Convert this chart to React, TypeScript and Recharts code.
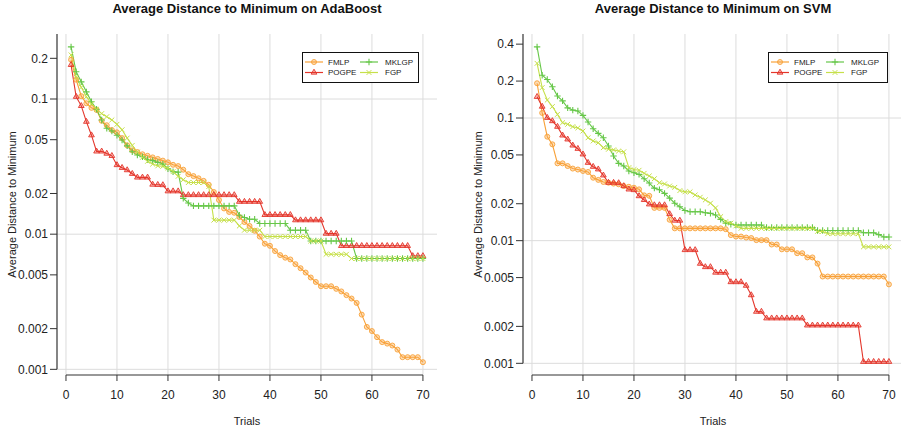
import React from "react";
import { LineChart, Line, XAxis, YAxis, CartesianGrid, ReferenceLine, Legend } from "recharts";

// trial index shared by both panels
const trials = [
  1, 2, 3, 4, 5, 6, 7, 8, 9, 10, 11, 12, 13, 14, 15, 16, 17, 18, 19, 20,
  21, 22, 23, 24, 25, 26, 27, 28, 29, 30, 31, 32, 33, 34, 35, 36, 37, 38, 39, 40,
  41, 42, 43, 44, 45, 46, 47, 48, 49, 50, 51, 52, 53, 54, 55, 56, 57, 58, 59, 60,
  61, 62, 63, 64, 65, 66, 67, 68, 69, 70,
];

const xTicks = [0, 10, 20, 30, 40, 50, 60, 70];
const adaTicks = [0.001, 0.002, 0.005, 0.01, 0.02, 0.05, 0.1, 0.2];
const svmTicks = [0.001, 0.002, 0.005, 0.01, 0.02, 0.05, 0.1, 0.2, 0.4];
const decades = [0.001, 0.01, 0.1];

// AdaBoost panel
const adaFMLP = [
  0.195, 0.139, 0.105, 0.093, 0.086, 0.083, 0.069, 0.064, 0.059, 0.0567,
  0.0514, 0.0454, 0.0417, 0.0405, 0.039, 0.038, 0.037, 0.036, 0.035, 0.034,
  0.0326, 0.0319, 0.03, 0.0278, 0.0269, 0.0259, 0.0248, 0.0232, 0.0205, 0.0179,
  0.0155, 0.0146, 0.0144, 0.0134, 0.0123, 0.0115, 0.0106, 0.0096, 0.0085, 0.0082,
  0.0075, 0.007, 0.0067, 0.0065, 0.006, 0.0056, 0.0052, 0.00478, 0.00443, 0.00412,
  0.00412, 0.00412, 0.00394, 0.00377, 0.00354, 0.00334, 0.0031, 0.00254, 0.00206, 0.00192,
  0.00173, 0.00159, 0.00155, 0.0015, 0.0014, 0.00123, 0.00123, 0.00123, 0.00123, 0.00113,
];
const adaPOGPE = [
  0.179, 0.104, 0.089, 0.068, 0.054, 0.041, 0.041, 0.0395, 0.038, 0.0325,
  0.031, 0.0298, 0.028, 0.0263, 0.0263, 0.0263, 0.0233, 0.0232, 0.0231, 0.0208,
  0.0208, 0.0208, 0.0195, 0.0195, 0.0195, 0.0195, 0.0195, 0.0195, 0.0195, 0.0195,
  0.0195, 0.0195, 0.0195, 0.0174, 0.0174, 0.0174, 0.0174, 0.0174, 0.0139, 0.0139,
  0.0139, 0.0139, 0.0139, 0.0139, 0.0127, 0.0127, 0.0127, 0.0127, 0.0127, 0.0127,
  0.0101, 0.0101, 0.0101, 0.0082, 0.0082, 0.0082, 0.0082, 0.0082, 0.0082, 0.0082,
  0.0082, 0.0082, 0.0082, 0.0082, 0.0082, 0.0082, 0.0082, 0.0069, 0.0069, 0.0069,
];
const adaMKLGP = [
  0.243, 0.159, 0.134, 0.113, 0.0955, 0.084, 0.07, 0.0607, 0.058, 0.054,
  0.0497, 0.045, 0.0407, 0.0385, 0.0374, 0.0357, 0.035, 0.034, 0.033, 0.0305,
  0.029, 0.0288, 0.0184, 0.017, 0.0162, 0.0162, 0.0162, 0.0162, 0.0162, 0.0162,
  0.0162, 0.0162, 0.0162, 0.0138, 0.0133, 0.0129, 0.0129, 0.012, 0.012, 0.012,
  0.012, 0.012, 0.012, 0.0107, 0.0107, 0.0107, 0.0107, 0.0089, 0.0089, 0.0089,
  0.0089, 0.0089, 0.0089, 0.0089, 0.0089, 0.0089, 0.0066, 0.0066, 0.0066, 0.0066,
  0.0066, 0.0066, 0.0066, 0.0066, 0.0066, 0.0066, 0.0066, 0.0066, 0.0066, 0.0066,
];
const adaFGP = [
  0.212, 0.145, 0.122, 0.104, 0.092, 0.084, 0.078, 0.074, 0.07, 0.065,
  0.0592, 0.0514, 0.0454, 0.0405, 0.037, 0.0346, 0.033, 0.032, 0.0318, 0.0308,
  0.029, 0.0268, 0.0253, 0.0241, 0.0241, 0.0241, 0.0241, 0.0225, 0.0127, 0.0127,
  0.0127, 0.0127, 0.0127, 0.0115, 0.0107, 0.0107, 0.0107, 0.0107, 0.0096, 0.0096,
  0.0096, 0.0096, 0.0096, 0.0096, 0.0096, 0.0096, 0.0096, 0.0089, 0.0089, 0.0089,
  0.0071, 0.0071, 0.0071, 0.0071, 0.0071, 0.0066, 0.0066, 0.0066, 0.0066, 0.0066,
  0.0066, 0.0066, 0.0066, 0.0066, 0.0066, 0.0066, 0.0066, 0.0066, 0.0066, 0.0066,
];

// SVM panel
const svmFMLP = [
  0.192, 0.11, 0.0704, 0.061, 0.0427, 0.0427, 0.0406, 0.0387, 0.038, 0.037,
  0.0363, 0.0326, 0.0313, 0.0301, 0.0297, 0.0292, 0.0288, 0.0279, 0.0275, 0.027,
  0.0262, 0.0234, 0.0232, 0.0185, 0.0185, 0.0185, 0.0148, 0.0126, 0.0126, 0.0126,
  0.0126, 0.0126, 0.0126, 0.0126, 0.0126, 0.0126, 0.0126, 0.0124, 0.0111, 0.0108,
  0.0108, 0.0106, 0.0105, 0.0101, 0.0101, 0.0101, 0.0093, 0.0093, 0.0085, 0.0085,
  0.0085, 0.0079, 0.0079, 0.0073, 0.0073, 0.0065, 0.0051, 0.0051, 0.0051, 0.0051,
  0.0051, 0.0051, 0.0051, 0.0051, 0.0051, 0.0051, 0.0051, 0.0051, 0.0051, 0.0044,
];
const svmPOGPE = [
  0.149, 0.124, 0.1005, 0.0945, 0.085, 0.0722, 0.067, 0.0598, 0.0562, 0.0506,
  0.0432, 0.0401, 0.0382, 0.0341, 0.0297, 0.0297, 0.0295, 0.0279, 0.0262, 0.0259,
  0.0231, 0.0215, 0.0198, 0.0195, 0.0195, 0.0195, 0.0165, 0.0146, 0.0146, 0.0084,
  0.0084, 0.0084, 0.0065, 0.0061, 0.0061, 0.0055, 0.0055, 0.0055, 0.0046, 0.0046,
  0.0046, 0.0043, 0.0036, 0.00264, 0.00264, 0.00233, 0.00233, 0.00233, 0.00233, 0.00233,
  0.00233, 0.00233, 0.00233, 0.00204, 0.00204, 0.00204, 0.00204, 0.00204, 0.00204, 0.00204,
  0.00204, 0.00204, 0.00204, 0.00204, 0.00103, 0.00103, 0.00103, 0.00103, 0.00103, 0.00103,
];
const svmMKLGP = [
  0.38, 0.223, 0.206, 0.18, 0.151, 0.138, 0.121, 0.116, 0.114, 0.105,
  0.0927, 0.0818, 0.075, 0.069, 0.0591, 0.049, 0.0427, 0.0406, 0.037, 0.0358,
  0.0347, 0.032, 0.0295, 0.0268, 0.026, 0.0243, 0.0222, 0.0202, 0.0189, 0.0176,
  0.0172, 0.0172, 0.0172, 0.0169, 0.0167, 0.0162, 0.0149, 0.0139, 0.0136, 0.0134,
  0.0134, 0.0134, 0.0134, 0.0134, 0.0134, 0.0128, 0.0128, 0.0128, 0.0128, 0.0128,
  0.0128, 0.0128, 0.0128, 0.0128, 0.0128, 0.0121, 0.0121, 0.0121, 0.0121, 0.0121,
  0.0121, 0.0121, 0.0121, 0.0121, 0.0116, 0.0116, 0.0116, 0.0112, 0.0107, 0.0107,
];
const svmFGP = [
  0.279, 0.177, 0.14, 0.124, 0.107, 0.0916, 0.0888, 0.085, 0.083, 0.0783,
  0.069, 0.065, 0.0629, 0.0573, 0.0556, 0.055, 0.0538, 0.053, 0.0394, 0.038,
  0.0375, 0.0354, 0.0337, 0.032, 0.0297, 0.029, 0.0279, 0.0272, 0.0256, 0.025,
  0.025, 0.0236, 0.0226, 0.0215, 0.0202, 0.0185, 0.0157, 0.0143, 0.0139, 0.0132,
  0.0126, 0.0126, 0.0126, 0.0126, 0.0126, 0.0126, 0.0126, 0.0126, 0.0126, 0.0126,
  0.0126, 0.0126, 0.0126, 0.0126, 0.0126, 0.0119, 0.0119, 0.0114, 0.0114, 0.0114,
  0.0114, 0.0114, 0.0114, 0.0114, 0.0089, 0.0089, 0.0089, 0.0089, 0.0089, 0.0089,
];

const SERIES = [
  { key: "FMLP", color: "#F8A138", shape: "circle" },
  { key: "POGPE", color: "#E4362B", shape: "triangle" },
  { key: "MKLGP", color: "#66C748", shape: "plus" },
  { key: "FGP", color: "#C6E04A", shape: "cross" },
];

const X_DOMAIN = [-1.76, 72.76];
const TEXT = "#222";
const AXIS = "#333";

function Marker({ cx, cy, shape, color }: any) {
  if (cx == null || cy == null) return null;
  if (shape === "circle") {
    return <circle cx={cx} cy={cy} r={2.5} fill={color} fillOpacity={0.35} stroke={color} strokeWidth={0.9} />;
  }
  if (shape === "triangle") {
    const r = 3.3;
    const pts = `${cx},${cy - r} ${cx - r * 0.87},${cy + r * 0.5} ${cx + r * 0.87},${cy + r * 0.5}`;
    return <polygon points={pts} fill={color} fillOpacity={0.35} stroke={color} strokeWidth={0.9} />;
  }
  if (shape === "plus") {
    const r = 3.2;
    return <path d={`M${cx - r},${cy}H${cx + r}M${cx},${cy - r}V${cy + r}`} stroke={color} strokeWidth={1.1} fill="none" />;
  }
  const r = 2.4;
  return (
    <path
      d={`M${cx - r},${cy - r}L${cx + r},${cy + r}M${cx - r},${cy + r}L${cx + r},${cy - r}`}
      stroke={color}
      strokeWidth={1}
      fill="none"
    />
  );
}

function LegendBox({ width }: { width: number }) {
  const cols = [
    { lx: 2, tx: 25 },
    { lx: 57, tx: 82 },
  ];
  return (
    <div style={{ width, height: 31, border: "1px solid #111", boxSizing: "border-box", background: "#fff" }}>
      <svg width={width - 2} height={29} style={{ display: "block" }}>
        {SERIES.map((s, i) => {
          const c = cols[Math.floor(i / 2)];
          const y = i % 2 === 0 ? 9 : 19.5;
          return (
            <g key={s.key}>
              <line x1={c.lx} x2={c.lx + 18} y1={y} y2={y} stroke={s.color} strokeWidth={1.2} />
              <Marker cx={c.lx + 9} cy={y} shape={s.shape} color={s.color} />
              <text x={c.tx} y={y} dy="0.35em" fontSize={8} fill={TEXT}>
                {s.key}
              </text>
            </g>
          );
        })}
      </svg>
    </div>
  );
}

function Panel({ left, title, values, yTicks, yDomain, legendWidth }: any) {
  const rows = trials.map((t, i) => ({
    t,
    FMLP: values[0][i],
    POGPE: values[1][i],
    MKLGP: values[2][i],
    FGP: values[3][i],
  }));
  const tickStyle = { fontSize: 12, fill: TEXT };
  return (
    <div style={{ position: "absolute", left, top: 0, width: 437, height: 429 }}>
      <div
        style={{
          position: "absolute",
          left: 57,
          width: 380,
          top: 1.5,
          textAlign: "center",
          fontWeight: "bold",
          fontSize: 13,
          lineHeight: "13px",
          color: "#111",
          whiteSpace: "nowrap",
        }}
      >
        {title}
      </div>
      <LineChart width={437} height={429} data={rows} margin={{ top: 34, right: 0, bottom: 0, left: 0 }}>
        <CartesianGrid
          stroke="#dcdcdc"
          strokeWidth={1}
          horizontalValues={decades}
          verticalValues={xTicks}
        />
        <XAxis
          dataKey="t"
          type="number"
          domain={X_DOMAIN}
          allowDataOverflow
          ticks={xTicks}
          interval={0}
          height={54}
          axisLine={false}
          tickLine={{ stroke: AXIS }}
          tickSize={6}
          tickMargin={9}
          tick={tickStyle}
          label={{ value: "Trials", position: "insideBottom", offset: 4, fontSize: 11, fill: TEXT }}
        />
        <YAxis
          type="number"
          scale="log"
          domain={yDomain}
          allowDataOverflow
          ticks={yTicks}
          interval={0}
          width={57}
          axisLine={false}
          tickLine={{ stroke: AXIS }}
          tickSize={7}
          tickMargin={2}
          tick={tickStyle}
          tickFormatter={(v: number) => String(v)}
          label={{
            value: "Average Distance to Minimum",
            angle: -90,
            position: "insideLeft",
            offset: 12,
            fontSize: 11,
            fill: TEXT,
            style: { textAnchor: "middle" },
          }}
        />
        <ReferenceLine
          segment={[
            { x: X_DOMAIN[0], y: 0.001 },
            { x: X_DOMAIN[0], y: yDomain[1] },
          ]}
          stroke={AXIS}
          strokeWidth={1.2}
          ifOverflow="visible"
        />
        <ReferenceLine
          segment={[
            { x: 0, y: yDomain[0] },
            { x: 70, y: yDomain[0] },
          ]}
          stroke={AXIS}
          strokeWidth={1.2}
          ifOverflow="visible"
        />
        {SERIES.map((s) => (
          <Line
            key={s.key}
            dataKey={s.key}
            type="linear"
            stroke={s.color}
            strokeWidth={1.1}
            isAnimationActive={false}
            dot={(p: any) => (
              <Marker key={`${s.key}-${p.index}`} cx={p.cx} cy={p.cy} shape={s.shape} color={s.color} />
            )}
            activeDot={false}
          />
        ))}
        <Legend
          layout="horizontal"
          verticalAlign="middle"
          align="center"
          wrapperStyle={{ left: 302, top: 52, width: legendWidth, height: 31 }}
          content={() => <LegendBox width={legendWidth} />}
        />
      </LineChart>
    </div>
  );
}

export default function App() {
  return (
    <div
      style={{
        position: "absolute",
        left: 0,
        top: 0,
        width: 901,
        height: 429,
        overflow: "hidden",
        background: "#fff",
        fontFamily: '"Liberation Sans", Arial, Helvetica, sans-serif',
      }}
    >
      <Panel
        left={0}
        title="Average Distance to Minimum on AdaBoost"
        values={[adaFMLP, adaPOGPE, adaMKLGP, adaFGP]}
        yTicks={adaTicks}
        yDomain={[0.000908, 0.3027]}
        legendWidth={117}
      />
      <Panel
        left={466}
        title="Average Distance to Minimum on SVM"
        values={[svmFMLP, svmPOGPE, svmMKLGP, svmFGP]}
        yTicks={svmTicks}
        yDomain={[0.000803, 0.484]}
        legendWidth={120}
      />
    </div>
  );
}
